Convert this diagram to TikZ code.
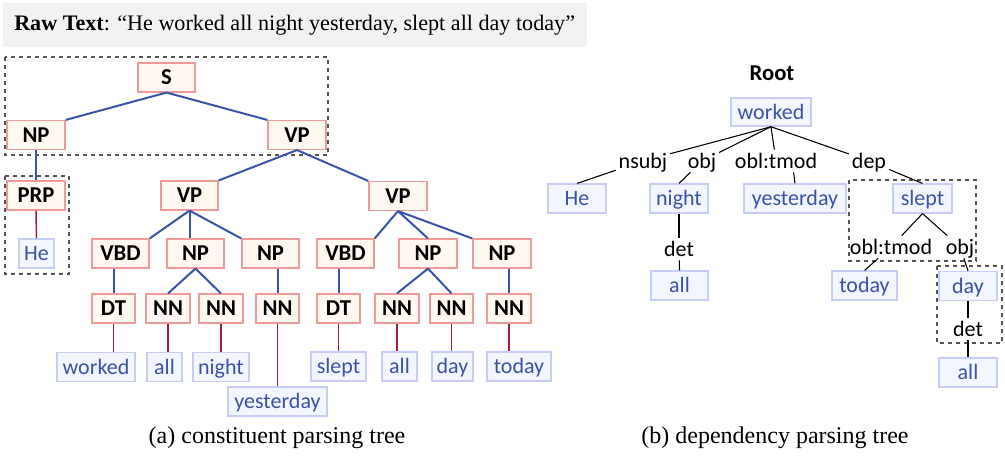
\documentclass[tikz,border=0pt]{standalone}
\usepackage{fontspec}
\setmainfont{Liberation Serif}
\newfontfamily\calfont{Carlito}
\usetikzlibrary{calc}
\definecolor{cfill}{HTML}{FFF8F1}
\definecolor{cborder}{HTML}{EC9A9A}
\definecolor{lfill}{HTML}{F3F5FF}
\definecolor{lborder}{HTML}{C6CEF8}
\definecolor{ltext}{HTML}{3C52A8}
\definecolor{bline}{HTML}{3A54A8}
\definecolor{rline}{HTML}{9E1E3C}
\definecolor{bannerfill}{HTML}{F3F1F3}
\definecolor{dashgray}{HTML}{555555}
\begin{document}
\begin{tikzpicture}[x=0.75pt,y=-0.75pt,
  wd/.style={minimum width=#1*0.75pt},
  cnode/.style={draw=cborder, fill=cfill, line width=1.1pt, inner sep=0pt,
    minimum height=21.5pt, text height=10.9pt, text depth=0pt,
    font=\calfont\fontsize{17}{18}\selectfont\bfseries},
  leaf/.style={draw=lborder, fill=lfill, line width=1.1pt, inner sep=0pt, text=ltext,
    minimum height=21.5pt, text height=10.6pt, text depth=0pt,
    font=\calfont\fontsize{16.5}{18}\selectfont},
  dlabel/.style={inner xsep=2pt, inner ysep=3pt, text height=10.6pt, text depth=0pt,
    font=\calfont\fontsize{16.5}{18}\selectfont},
  bedge/.style={draw=bline, line width=1.5pt},
  redge/.style={draw=rline, line width=1.1pt},
  dedge/.style={draw=black, line width=0.8pt},
  dbox/.style={draw=dashgray, dashed, line width=0.8pt},
  caption/.style={font=\fontsize{18}{20}\selectfont}]
\useasboundingbox (0,0) rectangle (1005,460);

% banner
\fill[bannerfill] (3,3) rectangle (587,47);
\node[anchor=west, inner sep=0pt, font=\fontsize{16.6}{18}\selectfont] (raw) at (14,25)
  {\textbf{Raw Text}: “He worked all night yesterday, slept all day today”};

% ---------- constituent tree ----------
\draw[dbox] (5,57) rectangle (328,155);
\draw[dbox] (5,176) rectangle (69,274);

\node[cnode, wd=57] (S) at (166.5,77.5) {S};
\node[cnode, wd=58] (NPa) at (36,135) {NP};
\node[cnode, wd=58] (VPa) at (297,135) {VP};
\node[cnode, wd=58] (PRP) at (36,195.5) {PRP};
\node[leaf, wd=35] (He) at (36.5,253.5) {He};
\node[cnode, wd=57] (VPb) at (189.5,195.5) {VP};
\node[cnode, wd=58] (VPc) at (398,196) {VP};
\node[cnode, wd=57] (VBDa) at (120.5,253.5) {VBD};
\node[cnode, wd=57] (NPb) at (195.5,253.5) {NP};
\node[cnode, wd=57] (NPc) at (270.5,253.5) {NP};
\node[cnode, wd=57] (VBDb) at (345.5,253.5) {VBD};
\node[cnode, wd=58] (NPd) at (428,253.5) {NP};
\node[cnode, wd=58] (NPe) at (502,253.5) {NP};
\node[cnode, wd=43] (DTa) at (113.5,308.5) {DT};
\node[cnode, wd=44] (NNa) at (168,308.5) {NN};
\node[cnode, wd=44] (NNb) at (221,308.5) {NN};
\node[cnode, wd=43] (NNc) at (277.5,308.5) {NN};
\node[cnode, wd=43] (DTb) at (338.5,308.5) {DT};
\node[cnode, wd=44] (NNd) at (397,308.5) {NN};
\node[cnode, wd=43] (NNe) at (451.5,308.5) {NN};
\node[cnode, wd=44] (NNf) at (509,308.5) {NN};
\node[leaf, wd=78] (Wa) at (96,367) {worked};
\node[leaf, wd=35] (Wb) at (164.5,367) {all};
\node[leaf, wd=56] (Wc) at (221,367) {night};
\node[leaf, wd=99] (Wd) at (277.5,401.5) {yesterday};
\node[leaf, wd=55] (We) at (338.5,366.5) {slept};
\node[leaf, wd=35] (Wf) at (399.5,366.5) {all};
\node[leaf, wd=41] (Wg) at (452.5,366.5) {day};
\node[leaf, wd=64] (Wh) at (519,366.5) {today};

\draw[bedge] (S.south) -- (NPa.north east);
\draw[bedge] (S.south) -- (VPa.north west);
\draw[bedge] (NPa.south) -- (PRP.north);
\draw[bedge] (VPa.south) -- (VPb.north east);
\draw[bedge] (VPa.south) -- (VPc.north west);
\draw[bedge] (VPb.south) -- (VBDa.north east);
\draw[bedge] (VPb.south) -- (VPb.south |- NPb.north);
\draw[bedge] (VPb.south) -- (NPc.north west);
\draw[bedge] (VPc.south) -- (VBDb.north east);
\draw[bedge] (VPc.south) -- (NPd.north);
\draw[bedge] (VPc.south) -- (NPe.north west);
\draw[bedge] (DTa.north |- VBDa.south) -- (DTa.north);
\draw[bedge] (NPb.south) -- (NNa.north);
\draw[bedge] (NPb.south) -- (NNb.north);
\draw[bedge] (NNc.north |- NPc.south) -- (NNc.north);
\draw[bedge] (DTb.north |- VBDb.south) -- (DTb.north);
\draw[bedge] (NPd.south) -- (NNd.north);
\draw[bedge] (NPd.south) -- (NNe.north);
\draw[bedge] (NNf.north |- NPe.south) -- (NNf.north);

\draw[redge] (PRP.south) -- (He.north);
\draw[redge] (DTa.south) -- (DTa.south |- Wa.north);
\draw[redge] (NNa.south) -- (NNa.south |- Wb.north);
\draw[redge] (NNb.south) -- (NNb.south |- Wc.north);
\draw[redge] (NNc.south) -- (NNc.south |- Wd.north);
\draw[redge] (DTb.south) -- (DTb.south |- We.north);
\draw[redge] (NNd.south) -- (NNd.south |- Wf.north);
\draw[redge] (NNe.south) -- (NNe.south |- Wg.north);
\draw[redge] (NNf.south) -- (NNf.south |- Wh.north);

\node[caption] (capa) at (277,438) {(a) constituent parsing tree};

% ---------- dependency tree ----------
\draw[dbox] (849,180) rectangle (976,261);
\draw[dbox] (937,266) rectangle (1002,343);

\node[inner sep=0pt, text height=10.9pt, text depth=0pt,
  font=\calfont\fontsize{17}{18}\selectfont\bfseries] (root) at (772,73) {Root};
\node[leaf, wd=80, minimum height=21pt] (dW) at (771,112) {worked};
\node[dlabel] (nsubj) at (643,161) {nsubj};
\node[dlabel] (obj) at (702,161) {obj};
\node[dlabel] (obl) at (776,161) {obl:tmod};
\node[dlabel] (dep) at (869,161) {dep};
\node[leaf, wd=58] (dHe) at (577,198.5) {He};
\node[leaf, wd=58] (dNight) at (679,198.5) {night};
\node[leaf, wd=102] (dYest) at (795,198.5) {yesterday};
\node[leaf, wd=59] (dSlept) at (922.5,198.5) {slept};
\node[dlabel] (detA) at (679,249) {det};
\node[leaf, wd=57] (dAllA) at (679.5,285.5) {all};
\node[dlabel] (oblB) at (891,247) {obl:tmod};
\node[dlabel] (objB) at (960,247) {obj};
\node[leaf, wd=65] (dToday) at (864.5,285.5) {today};
\node[leaf, wd=58] (dDay) at (968,286) {day};
\node[dlabel] (detB) at (968,329) {det};
\node[leaf, wd=58] (dAllB) at (968,372.5) {all};

\draw[dedge] (dW.south) -- (nsubj);
\draw[dedge] (dW.south) -- (obj);
\draw[dedge] (dW.south) -- (obl);
\draw[dedge] (dW.south) -- (dep);
\draw[dedge] (nsubj) -- (dHe.north);
\draw[dedge] (obj) -- (dNight.north);
\draw[dedge] ($(obl.south)!0.4!(obl.south east)$) -- (dYest.north);
\draw[dedge] (dep) -- (dSlept.north);
\draw[dedge] (dNight.south) -- (detA);
\draw[dedge] (detA) -- (dAllA.north);
\draw[dedge] (dSlept.south) -- (oblB);
\draw[dedge] (dSlept.south) -- (objB);
\draw[dedge] (oblB) -- (dToday.north);
\draw[dedge] (objB) -- (dDay.north);
\draw[dedge] (dDay.south) -- (detB);
\draw[dedge] (detB) -- (dAllB.north);

\node[caption] (capb) at (775,438) {(b) dependency parsing tree};
\end{tikzpicture}
\end{document}
